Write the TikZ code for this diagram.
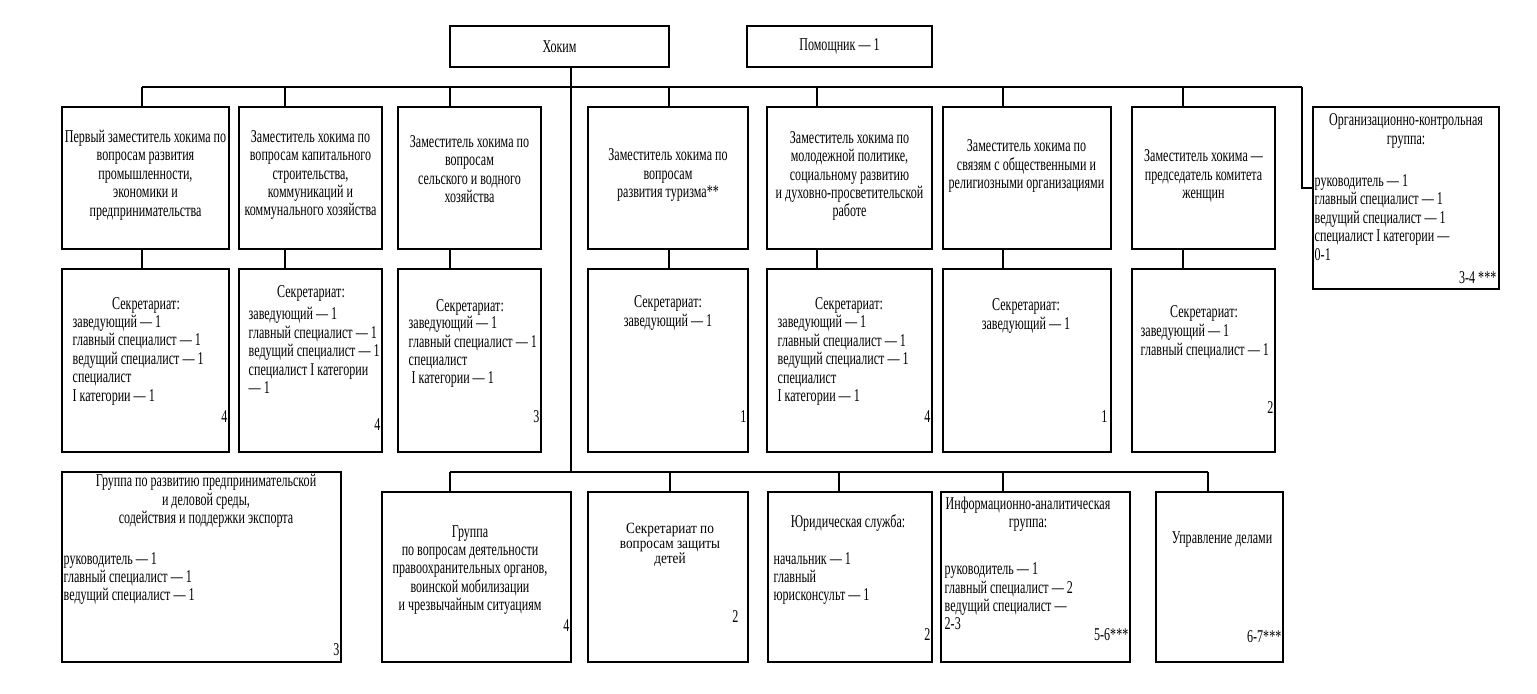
\documentclass[tikz,border=0pt]{standalone}
\usepackage{fontspec}
\setmainfont{Liberation Serif}[FakeStretch=0.67]
\newfontfamily\detfont{Liberation Serif}[FakeStretch=0.85]
\newcommand\txtsize{\fontsize{9}{9.2}\selectfont\lineskiplimit=-5pt\relax}
\newcommand\detsize{\detfont\fontsize{7.8}{7.4}\selectfont\lineskiplimit=-5pt\relax}
\usetikzlibrary{fit}

\tikzset{
  box/.style={draw, line width=0.7pt, inner sep=0pt},
  txt/.style={inner sep=0pt, align=center, font=\txtsize},
  lst/.style={txt, align=left, anchor=west},
  num/.style={txt, anchor=east},
}

\begin{document}
\begin{tikzpicture}[x=0.5pt, y=-0.5pt, line width=0.7pt]
  \useasboundingbox (0,0) rectangle (1537,693);
  \fill[white] (0,0) rectangle (1537,693);

  % head
  \node[box, fit={(450,26) (669,67)}] (hok) {};
  \node[box, fit={(747,26) (932,67)}] (pom) {};
  \node[txt] (hokt) at (hok.center) {Хоким};
  \node[txt] (pomt) at (pom.center) {Помощник — 1};

  % deputies
  \node[box, fit={(62,107) (229,249)}] (d1) {};
  \node[box, fit={(239,107) (382,249)}] (d2) {};
  \node[box, fit={(398,107) (541,249)}] (d3) {};
  \node[box, fit={(588,107) (748,249)}] (d4) {};
  \node[box, fit={(767,107) (932,249)}] (d5) {};
  \node[box, fit={(943,107) (1111,249)}] (d6) {};
  \node[box, fit={(1132,107) (1275,249)}] (d7) {};
  \node[box, fit={(1313,107) (1499,289)}] (org) {};

  \node[txt] (d1t) at (145.5,175) {Первый заместитель хокима по\\вопросам развития\\промышленности,\\экономики и\\предпринимательства};
  \node[txt] (d2t) at (310.5,175) {Заместитель хокима по\\вопросам капитального\\строительства,\\коммуникаций и\\коммунального хозяйства};
  \node[txt] (d3t) at (469.5,169) {Заместитель хокима по\\вопросам\\сельского и водного\\хозяйства};
  \node[txt] (d4t) at (668,175) {Заместитель хокима по\\вопросам\\развития туризма**};
  \node[txt] (d5t) at (849.5,176) {Заместитель хокима по\\молодежной политике,\\социальному развитию\\и духовно-просветительской\\работе};
  \node[txt] (d6t) at (1026.5,166) {Заместитель хокима по\\связям с общественными и\\религиозными организациями};
  \node[txt] (d7t) at (1203.5,176) {Заместитель хокима —\\председатель комитета\\женщин};
  \node[txt] (orgh) at (1406,131) {Организационно-контрольная\\группа:};
  \node[lst] (orgl) at (1314,217.5) {руководитель — 1\\главный специалист — 1\\ведущий специалист — 1\\специалист I категории —\\0-1};
  \node[num] (orgn) at (1497,278) {3-4 ***};

  % secretariats
  \node[box, fit={(62,269) (229,452)}] (s1) {};
  \node[box, fit={(239,269) (382,452)}] (s2) {};
  \node[box, fit={(398,269) (541,452)}] (s3) {};
  \node[box, fit={(588,269) (748,452)}] (s4) {};
  \node[box, fit={(767,269) (932,452)}] (s5) {};
  \node[box, fit={(943,269) (1111,452)}] (s6) {};
  \node[box, fit={(1132,269) (1275,452)}] (s7) {};

  \node[txt] (s1h) at (146,305) {Секретариат:};
  \node[lst] (s1l) at (72,360) {заведующий — 1\\главный специалист — 1\\ведущий специалист — 1\\специалист\\I категории — 1};
  \node[num] (s1n) at (228,417) {4};
  \node[txt] (s2h) at (311,293) {Секретариат:};
  \node[lst] (s2l) at (248,350.5) {заведующий — 1\\главный специалист — 1\\ведущий специалист — 1\\специалист I категории\\— 1};
  \node[num] (s2n) at (381,425) {4};
  \node[txt] (s3h) at (470,307) {Секретариат:};
  \node[lst] (s3l) at (408,352) {заведующий — 1\\главный специалист — 1\\специалист\\\ I категории — 1};
  \node[num] (s3n) at (540,417) {3};
  \node[txt] (s4h) at (668,313) {Секретариат:\\заведующий — 1};
  \node[num] (s4n) at (747,417) {1};
  \node[txt] (s5h) at (849,305) {Секретариат:};
  \node[lst] (s5l) at (777,360.5) {заведующий — 1\\главный специалист — 1\\ведущий специалист — 1\\специалист\\I категории — 1};
  \node[num] (s5n) at (931,417) {4};
  \node[txt] (s6h) at (1026,316) {Секретариат:\\заведующий — 1};
  \node[num] (s6n) at (1108,417) {1};
  \node[txt] (s7h) at (1204,313) {Секретариат:};
  \node[lst] (s7l) at (1140,341.5) {заведующий — 1\\главный специалист — 1};
  \node[num] (s7n) at (1274,408) {2};

  % lower groups
  \node[box, fit={(62,472) (341,662)}] (gA) {};
  \node[box, fit={(382,492) (571,662)}] (gB) {};
  \node[box, fit={(588,492) (748,662)}] (gC) {};
  \node[box, fit={(768,492) (932,662)}] (gD) {};
  \node[box, fit={(941,492) (1130,662)}] (gE) {};
  \node[box, fit={(1156,492) (1283,662)}] (gF) {};

  \node[txt] (gAh) at (206,501) {Группа по развитию предпринимательской\\и деловой среды,\\содействия и поддержки экспорта};
  \node[lst] (gAl) at (63,578.5) {руководитель — 1\\главный специалист — 1\\ведущий специалист — 1};
  \node[num] (gAn) at (340,650) {3};
  \node[txt] (gBt) at (470,570) {Группа\\по вопросам деятельности\\правоохранительных органов,\\воинской мобилизации\\и чрезвычайным ситуациям};
  \node[num] (gBn) at (570,626) {4};
  \node[txt, font=\detsize] (gCt) at (670,545) {Секретариат по\\вопросам защиты\\детей};
  \node[num] (gCn) at (739,617) {2};
  \node[txt] (gDh) at (848,523) {Юридическая служба:};
  \node[lst] (gDl) at (773,578.5) {начальник — 1\\главный\\юрисконсульт — 1};
  \node[num] (gDn) at (931,635) {2};
  \node[txt] (gEh) at (1028,514) {Информационно-аналитическая\\группа:};
  \node[lst] (gEl) at (944,596.5) {руководитель — 1\\главный специалист — 2\\ведущий специалист —\\2-3};
  \node[num] (gEn) at (1129,635) {5-6***};
  \node[txt] (gFt) at (1222,540) {Управление делами};
  \node[num] (gFn) at (1282,637) {6-7***};

  % connectors
  \coordinate (ubL) at (142,87);
  \coordinate (ubR) at (1302,87);
  \coordinate (lbL) at (450,472);
  \coordinate (lbR) at (1208,472);
  \coordinate (hv) at (571,87);
  \coordinate (oj) at (1302,188);
  \draw (ubL) -- (ubR);
  \draw (hok.south -| hv) -- (hv |- lbL);
  \draw (lbL) -- (lbR);
  \draw (ubR) -- (oj) -- (oj -| org.west);
  \foreach \x/\d/\s in {142/d1/s1, 285/d2/s2, 450/d3/s3, 669/d4/s4, 817/d5/s5, 1003/d6/s6, 1183/d7/s7} {
    \coordinate (tk) at (\x,87);
    \draw (tk) -- (tk |- \d.north);
    \draw (tk |- \d.south) -- (tk |- \s.north);
  }
  \foreach \x/\g in {450/gB, 670/gC, 839/gD, 1003/gE, 1208/gF} {
    \coordinate (tk) at (\x,472);
    \draw (tk) -- (tk |- \g.north);
  }
\end{tikzpicture}
\end{document}
